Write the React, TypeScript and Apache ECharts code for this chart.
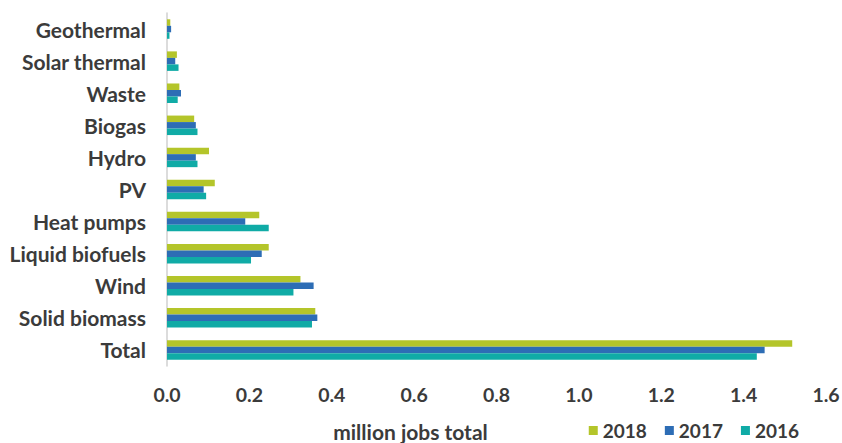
import React, { useEffect, useRef } from "react";
import * as echarts from "echarts";

const categories = [
  "Geothermal",
  "Solar thermal",
  "Waste",
  "Biogas",
  "Hydro",
  "PV",
  "Heat pumps",
  "Liquid biofuels",
  "Wind",
  "Solid biomass",
  "Total",
];
const values2018 = [0.008, 0.024, 0.03, 0.066, 0.102, 0.116, 0.224, 0.247, 0.324, 0.36, 1.518];
const values2017 = [0.01, 0.02, 0.034, 0.07, 0.07, 0.089, 0.19, 0.23, 0.356, 0.365, 1.451];
const values2016 = [0.006, 0.028, 0.026, 0.074, 0.074, 0.095, 0.247, 0.204, 0.307, 0.352, 1.432];
const xTicks = ["0.0", "0.2", "0.4", "0.6", "0.8", "1.0", "1.2", "1.4", "1.6"];

const COLORS = { y2018: "#B4C52A", y2017: "#2D6DB5", y2016: "#10ABA6" };
const FONT = "Lato";
const TEXT = "#3b3b3b";

export default function App() {
  const ref = useRef<HTMLDivElement>(null);
  useEffect(() => {
    document.body.style.margin = "0";
    if (!ref.current) return;
    const chart = echarts.init(ref.current, undefined, { renderer: "svg" });
    const mk = (name: string, data: number[], color: string) => ({
      name,
      type: "bar",
      data,
      barWidth: 6.5,
      barGap: "0%",
      itemStyle: { color },
    });
    chart.setOption({
      animation: false,
      backgroundColor: "#ffffff",
      grid: {
        left: 167,
        right: 16,
        top: 13,
        bottom: 77,
        containLabel: false,
        outerBoundsMode: "none",
      },
      legend: {
        data: ["2018", "2017", "2016"],
        right: 38,
        top: 416,
        itemWidth: 9,
        itemHeight: 9,
        itemGap: 18,
        icon: "rect",
        textStyle: { fontFamily: FONT, fontWeight: "bold", fontSize: 19, color: TEXT },
      },
      xAxis: {
        type: "value",
        min: 0,
        max: 1.6,
        interval: 0.2,
        name: "million jobs total",
        nameLocation: "middle",
        nameGap: 55,
        nameTextStyle: {
          fontFamily: FONT,
          fontWeight: "bold",
          fontSize: 21,
          lineHeight: 20,
          color: TEXT,
          padding: [0, 172, 0, 0],
        },
        axisLine: { show: false },
        axisTick: { show: false },
        splitLine: { show: false },
        axisLabel: {
          margin: 18,
          fontFamily: FONT,
          fontWeight: "bold",
          fontSize: 19.5,
          color: TEXT,
          formatter: (v: number) => xTicks[Math.round(v / 0.2)] ?? v.toFixed(1),
        },
      },
      yAxis: {
        type: "category",
        data: categories,
        inverse: true,
        axisLine: { show: true, lineStyle: { color: "#d0d0d0", width: 1.5 } },
        axisTick: { show: false },
        axisLabel: {
          margin: 21,
          fontFamily: FONT,
          fontWeight: "bold",
          fontSize: 21,
          color: TEXT,
        },
      },
      series: [
        mk("2018", values2018, COLORS.y2018),
        mk("2017", values2017, COLORS.y2017),
        mk("2016", values2016, COLORS.y2016),
      ],
    });
    return () => chart.dispose();
  }, []);
  return <div ref={ref} style={{ width: 842, height: 443 }} />;
}
